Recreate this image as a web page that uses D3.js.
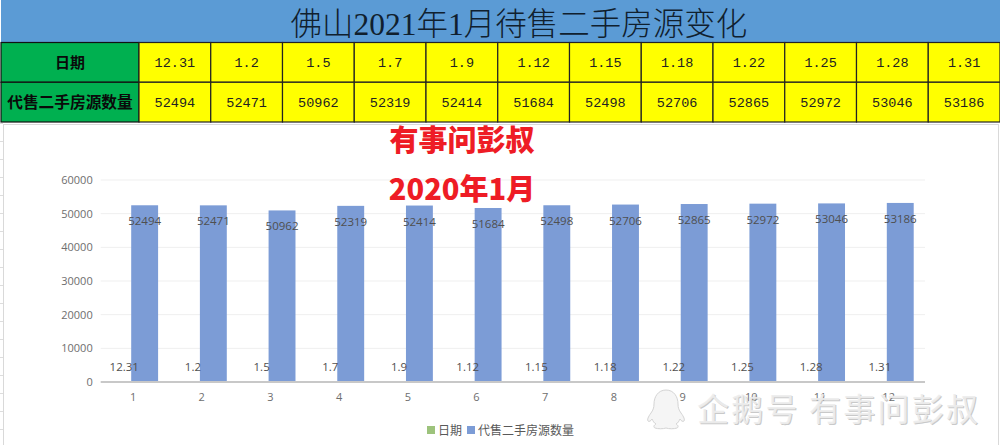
<!DOCTYPE html>
<html><head><meta charset="utf-8">
<script src="https://cdn.jsdelivr.net/npm/d3@7"></script>
<style>html,body{margin:0;padding:0;background:#fff}svg{display:block}</style></head>
<body><svg id="c" width="1000" height="445"></svg>
<script>
const titleText = "佛山2021年1月待售二手房源变化";
const rowHeads = ["日期", "代售二手房源数量"];
const dates = ["12.31","1.2","1.5","1.7","1.9","1.12","1.15","1.18","1.22","1.25","1.28","1.31"];
const counts = [52494,52471,50962,52319,52414,51684,52498,52706,52865,52972,53046,53186];
const indexLabels = [1,2,3,4,5,6,7,8,9,10,11,12];
const yTicks = [0,10000,20000,30000,40000,50000,60000];
const seriesNames = ["日期","代售二手房源数量"];
const seriesColors = ["#9dc37c","#7c9cd6"];
const overlayLines = ["有事问彭叔","2020年1月"];
const watermark = "企鹅号 有事问彭叔";

const svg = d3.select("#c");
const SANS = "'Open Sans','Noto Sans CJK SC',sans-serif";
const CJK = "'Noto Sans CJK SC',sans-serif";
const MONO = "'Liberation Mono','Noto Sans CJK SC',monospace";

// sheet background gridlines at left edge
svg.append("g").selectAll("line").data(d3.range(123,445,18)).join("line")
  .attr("x1",0).attr("x2",3).attr("y1",d=>d+.5).attr("y2",d=>d+.5).attr("stroke","#ddd");
svg.append("rect").attr("x",3.5).attr("y",124.5).attr("width",995).attr("height",325)
  .attr("fill","#fff").attr("stroke","#d9d9d9");

// title bar
svg.append("rect").attr("x",1).attr("y",0).attr("width",999).attr("height",42).attr("fill","#5b9bd5");
svg.append("text").attr("x",519).attr("y",35).attr("text-anchor","middle")
  .attr("font-family","'Liberation Serif','Noto Sans CJK SC',serif").attr("font-weight",300)
  .attr("font-size",31.5).attr("fill","#10202e").text(titleText);

// table
const colX = d3.scaleBand().domain(dates.map((d,i)=>i)).range([139,1000]);
const rowY = d3.scaleBand().domain([0,1]).range([42.5,122]);
const table = svg.append("g");
table.selectAll("rect.h").data(rowHeads).join("rect").attr("class","h")
  .attr("x",1).attr("y",(d,i)=>rowY(i)).attr("width",138).attr("height",rowY.bandwidth())
  .attr("fill","#00b050").attr("stroke","#111").attr("stroke-width",1.2);
table.selectAll("text.h").data(rowHeads).join("text").attr("class","h")
  .attr("x",70).attr("y",(d,i)=>rowY(i)+rowY.bandwidth()/2+5.5)
  .attr("text-anchor","middle").attr("font-family",CJK).attr("font-weight",700)
  .attr("font-size",(d,i)=>i?15.7:15).attr("fill","#0a0a0a").text(d=>d);
[dates,counts].forEach((row,r)=>{
  const g = table.append("g");
  g.selectAll("rect").data(row).join("rect")
    .attr("x",(d,i)=>colX(i)).attr("y",rowY(r)).attr("width",colX.bandwidth()).attr("height",rowY.bandwidth())
    .attr("fill","#ffff00").attr("stroke","#222").attr("stroke-width",1.2);
  g.selectAll("text").data(row).join("text")
    .attr("x",(d,i)=>colX(i)+colX.bandwidth()/2).attr("y",rowY(r)+rowY.bandwidth()/2+5)
    .attr("text-anchor","middle").attr("font-family",MONO).attr("font-size",13.5).attr("fill","#222").text(d=>d);
});

// chart
const x = d3.scaleBand().domain(indexLabels).range([100.7,925]);
const x1 = d3.scaleBand().domain(seriesNames).range([3.6,57.4]);
const y = d3.scaleLinear().domain([0,60000]).range([382,180]);

const grid = svg.append("g");
grid.selectAll("line").data(yTicks.slice(1)).join("line")
  .attr("x1",100.7).attr("x2",925).attr("y1",d=>y(d)).attr("y2",d=>y(d)).attr("stroke","#efefef");

const yAxis = svg.append("g").attr("transform","translate(100.7,0)")
  .call(d3.axisLeft(y).tickValues(yTicks).tickSize(0).tickPadding(8).tickFormat(d3.format("d")));
yAxis.select(".domain").remove();
yAxis.selectAll("text").attr("font-family",SANS).attr("font-size",11).attr("fill","#6e6e6e");

svg.append("g").selectAll("rect").data(dates).join("rect")
  .attr("x",(d,i)=>x(indexLabels[i])+x1(seriesNames[0])).attr("width",x1.bandwidth())
  .attr("y",d=>y(+d)).attr("height",d=>y(0)-y(+d)).attr("fill",seriesColors[0]);
svg.append("g").selectAll("rect").data(counts).join("rect")
  .attr("x",(d,i)=>x(indexLabels[i])+x1(seriesNames[1])).attr("width",x1.bandwidth())
  .attr("y",d=>y(d)).attr("height",d=>y(0)-y(d)).attr("fill",seriesColors[1]);

const xAxis = svg.append("g").attr("transform",`translate(-2,${y(0)})`)
  .call(d3.axisBottom(x).tickSize(0).tickPadding(11));
xAxis.select(".domain").remove();
xAxis.selectAll("text").attr("font-family",SANS).attr("font-size",11).attr("fill","#6e6e6e");
svg.append("line").attr("x1",100.7).attr("x2",925).attr("y1",y(0)).attr("y2",y(0))
  .attr("stroke","#c8c8c8").attr("stroke-width",2);

// data labels
svg.append("g").selectAll("text").data(dates).join("text")
  .attr("x",(d,i)=>x(indexLabels[i])+x1(seriesNames[0])+x1.bandwidth()/2+6.5).attr("y",y(0)-11)
  .attr("text-anchor","middle").attr("font-family",SANS).attr("font-size",11.5).attr("fill","#4f4f4f").text(d=>d);
svg.append("g").selectAll("text").data(counts).join("text")
  .attr("x",(d,i)=>x(indexLabels[i])+x1(seriesNames[1])+x1.bandwidth()/2).attr("y",d=>y(d)+20)
  .attr("text-anchor","middle").attr("font-family",SANS).attr("font-size",11.5).attr("fill","#4f4f4f").text(d=>d);

// legend
const legendX = [427,467];
const lg = svg.append("g").selectAll("g").data(seriesNames).join("g")
  .attr("transform",(d,i)=>`translate(${legendX[i]},426)`);
lg.append("rect").attr("width",8).attr("height",8).attr("fill",(d,i)=>seriesColors[i]);
lg.append("text").attr("x",11).attr("y",9).attr("font-family",CJK).attr("font-size",12).attr("fill","#595959").text(d=>d);

// red overlay
svg.append("g").selectAll("text").data(overlayLines).join("text")
  .attr("x",462).attr("y",(d,i)=>151+i*49).attr("text-anchor","middle")
  .attr("font-family",CJK).attr("font-weight",900).attr("font-size",29).attr("fill","#ee1c25").text(d=>d);

// watermark
const wm = svg.append("g");
wm.append("text").attr("x",697).attr("y",421).attr("font-family",CJK).attr("font-size",32)
  .attr("fill","#8a8a8a").attr("opacity",.45).attr("transform","translate(1,1)").attr("textLength",281).text(watermark);
wm.append("text").attr("x",697).attr("y",421).attr("font-family",CJK).attr("font-size",32)
  .attr("fill","#ededed").attr("opacity",.92).attr("textLength",281).text(watermark);
wm.append("path").attr("d","M666 390c-8 0-12 7-12 14 0 4-1 6-3 9-3 4-4 7-3 8 1 1 3 0 4-2 1 2 2 4 4 5-2 1-3 3-1 4 3 1 8 1 11 0 3 1 8 1 11 0 2-1 1-3-1-4 2-1 3-3 4-5 1 2 3 3 4 2 1-1 0-4-3-8-2-3-3-5-3-9 0-7-4-14-12-14z")
  .attr("fill","#f5f5f5").attr("stroke","#d4d4d4").attr("stroke-width",1);
</script></body></html>
